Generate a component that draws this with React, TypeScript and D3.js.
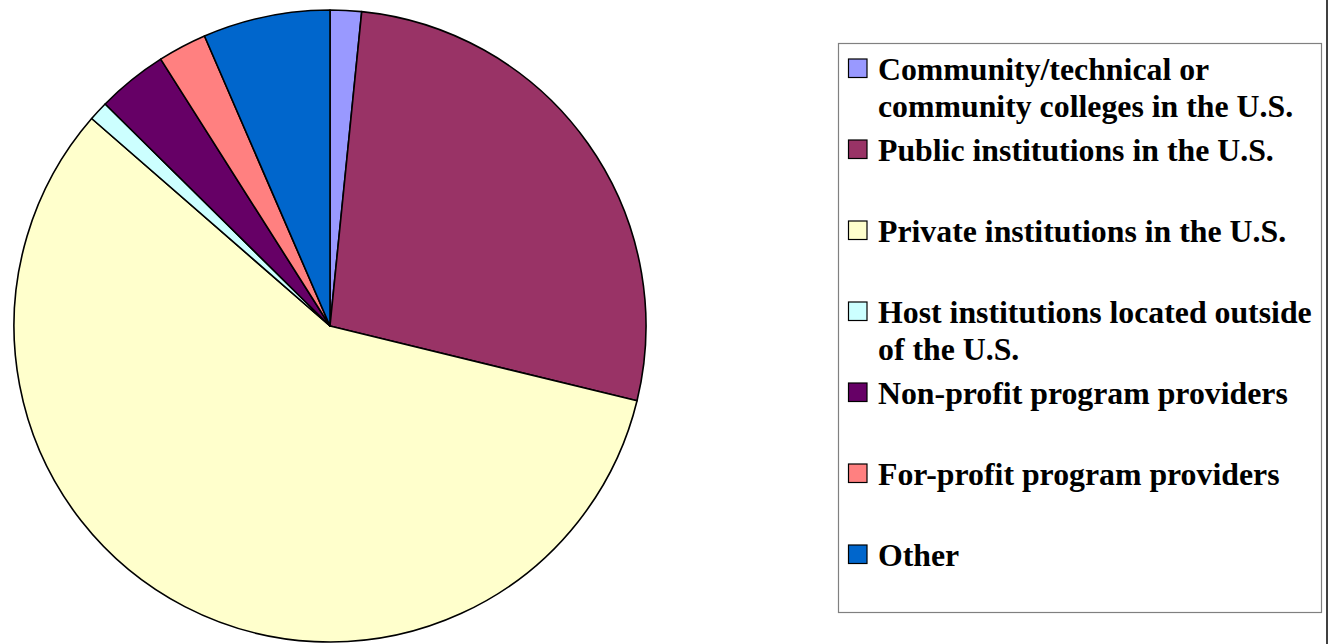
import React from "react";
import * as d3 from "d3";

const categories: string[][] = [
  ["Community/technical or", "community colleges in the U.S."],
  ["Public institutions in the U.S."],
  ["Private institutions in the U.S."],
  ["Host institutions located outside", "of the U.S."],
  ["Non-profit program providers"],
  ["For-profit program providers"],
  ["Other"],
];
const values: number[] = [1.6, 27.2, 57.6, 1.0, 3.6, 2.5, 6.5];
const colors: string[] = ["#9999FF", "#993366", "#FFFFCC", "#CCFFFF", "#660066", "#FF8080", "#0066CC"];

const W = 1329;
const H = 644;

export default function App() {
  const cx = 330;
  const cy = 326;
  const r = 316;
  const pie = d3.pie<number>().sort(null).value((d) => d)(values);
  const arc = d3.arc<d3.PieArcDatum<number>>().innerRadius(0).outerRadius(r);

  const legX = 838;
  const legY = 43;
  const legW = 483;
  const legH = 569;
  const swatchX = 848.5;
  const firstTop = 59;
  const step = 81;
  const sw = 18.5;
  const textX = 878;
  const lineH = 37;

  return (
    <svg
      width={W}
      height={H}
      style={{ position: "absolute", left: 0, top: 0, display: "block" }}
    >
      <rect x={0} y={0} width={W} height={H} fill="#ffffff" />
      <g transform={`translate(${cx},${cy})`}>
        {pie.map((p, i) => (
          <path
            key={i}
            d={arc(p) || ""}
            fill={colors[i]}
            stroke="#000"
            strokeWidth={1.6}
            strokeLinejoin="round"
          />
        ))}
      </g>
      <rect
        x={legX + 0.5}
        y={legY + 0.5}
        width={legW}
        height={legH}
        fill="#ffffff"
        stroke="#808080"
        strokeWidth={1.2}
      />
      {categories.map((lines, i) => {
        const top = firstTop + step * i;
        return (
          <g key={i}>
            <rect
              x={swatchX}
              y={top}
              width={sw}
              height={sw}
              fill={colors[i]}
              stroke="#000"
              strokeWidth={1.2}
            />
            <text
              x={textX}
              y={top + 21}
              fontFamily="'Liberation Serif', 'Times New Roman', serif"
              fontWeight="bold"
              fontSize={31.8}
              fill="#000"
            >
              {lines.map((ln, j) => (
                <tspan key={j} x={textX} dy={j === 0 ? 0 : lineH}>
                  {ln}
                </tspan>
              ))}
            </text>
          </g>
        );
      })}
      <line x1={1327} y1={0} x2={1327} y2={H} stroke="#000" strokeWidth={1.5} />
    </svg>
  );
}
